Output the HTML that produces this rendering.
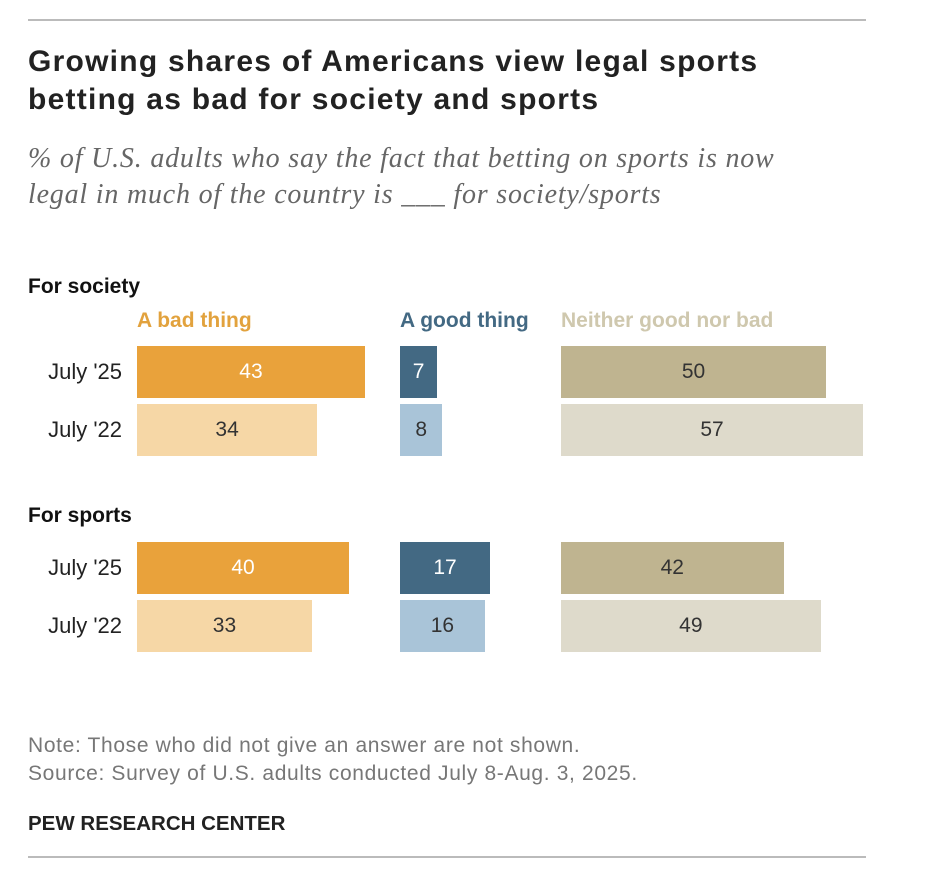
<!DOCTYPE html>
<html><head><meta charset="utf-8"><style>
body{margin:0;background:#fff;width:925px;height:881px;overflow:hidden;font-family:"Liberation Sans",sans-serif;position:relative}
.abs{position:absolute}
.rule{position:absolute;left:28px;width:838px;height:2px;background:#bbb}
.title{left:28px;top:43px;font-size:30px;letter-spacing:1.25px;font-weight:bold;color:#222;line-height:38px;width:820px}
.sub{left:28px;top:141px;font-family:"Liberation Serif",serif;font-style:italic;font-size:28px;letter-spacing:0.8px;color:#666;line-height:36px;width:775px}
.sec{font-size:21px;font-weight:bold;color:#111}
.hdr{font-size:21px;font-weight:bold}
.lab{font-size:22px;color:#222;left:20px;width:102px;text-align:right}
.val{font-size:21px;text-align:center;line-height:52px}
.foot{left:28px;font-size:21px;color:#777;letter-spacing:0.65px}
</style></head><body>
<div class="rule" style="top:19px"></div>
<div class="abs title">Growing shares of Americans view legal sports<br>betting as bad for society and sports</div>
<div class="abs sub">% of U.S. adults who say the fact that betting on sports is now legal in much of the country is ___ for society/sports</div>
<div class="abs hdr" style="left:137px;top:309px;color:#E2A23D">A bad thing</div>
<div class="abs hdr" style="left:400px;top:309px;color:#436983">A good thing</div>
<div class="abs hdr" style="left:561px;top:309px;color:#CFC8AE">Neither good nor bad</div>
<div id="chart"></div>
<div class="abs foot" style="top:734px">Note: Those who did not give an answer are not shown.</div>
<div class="abs foot" style="top:762px">Source: Survey of U.S. adults conducted July 8-Aug. 3, 2025.</div>
<div class="abs" style="left:28px;top:812px;font-size:20.5px;font-weight:bold;color:#222">PEW RESEARCH CENTER</div>
<div class="rule" style="top:856px"></div>
<script>
const groups=["For society","For sports"];
const years=["July '25","July '22"];
const badVals=[[43,34],[40,33]];
const goodVals=[[7,8],[17,16]];
const neitherVals=[[50,57],[42,49]];
const scale=v=>v*5.3;
const cols=[
 {name:'bad',x:137,vals:badVals,colors:['#E9A23B','#F6D7A6'],text:['#fff','#333']},
 {name:'good',x:400,vals:goodVals,colors:['#436983','#A9C4D8'],text:['#fff','#333']},
 {name:'neither',x:561,vals:neitherVals,colors:['#BFB490','#DEDACB'],text:['#333','#333']}
];
const groupTop=[346,542];
const secTop=[275,504];
const c=document.getElementById('chart');
groups.forEach((g,gi)=>{
 const s=document.createElement('div');
 s.className='abs sec';s.style.left='28px';s.style.top=secTop[gi]+'px';s.textContent=g;
 
 
 c.appendChild(s);
 years.forEach((y,yi)=>{
  const top=groupTop[gi]+yi*58;
  const l=document.createElement('div');
  l.className='abs lab';l.style.top=(top+13)+'px';l.textContent=y;
  
  
  c.appendChild(l);
  cols.forEach(col=>{
   const v=col.vals[gi][yi];
   const b=document.createElement('div');
   b.className='abs val';
   b.style.left=col.x+'px';b.style.top=top+'px';b.style.height='52px';
   b.style.width=scale(v)+'px';b.style.background=col.colors[yi];b.style.color=col.text[yi];
   b.textContent=v;
   
   
   c.appendChild(b);
  });
 });
});
</script>
</body></html>
